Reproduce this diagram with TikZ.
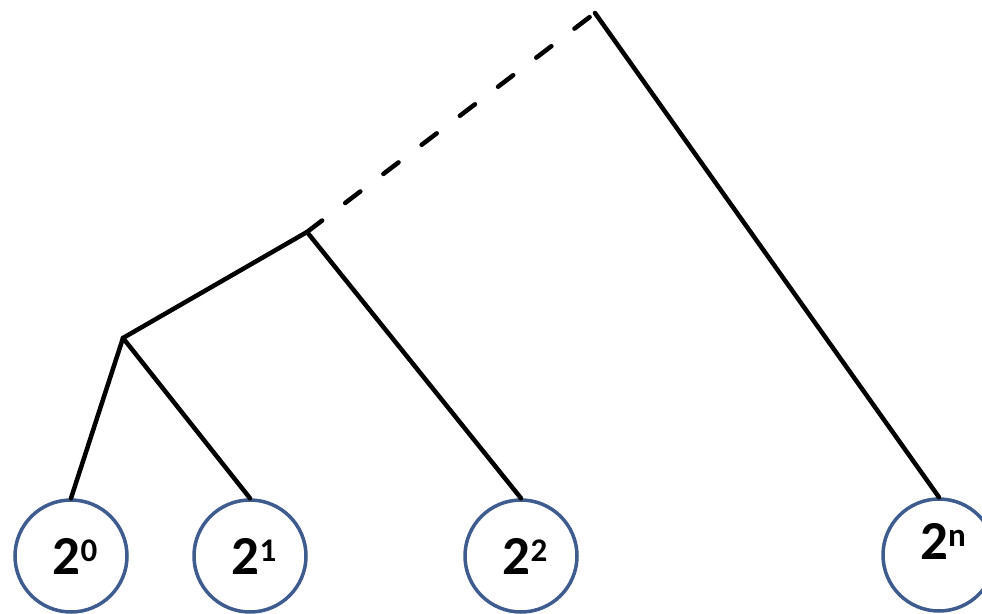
\documentclass[tikz,border=0pt]{standalone}
\usepackage{fontspec}
\setmainfont{Carlito}
\definecolor{ringBlue}{RGB}{62, 92, 142}
\newcommand{\pw}[1]{2\raisebox{13pt}{\fontsize{33}{33}\selectfont #1}}

\begin{document}
\begin{tikzpicture}[x=1pt, y=-1pt,
    ring/.style={circle, draw=ringBlue, line width=3.5pt, minimum size=112pt, inner sep=0pt,
      font=\bfseries\fontsize{55}{60}\selectfont},
    link/.style={line width=4.5pt, line cap=round}]
      \useasboundingbox (0,0) rectangle (982,613);
      \node[ring] (c0) at (71,556) {\hspace*{8pt}\pw{0}};
      \node[ring] (c1) at (250,556) {\hspace*{8pt}\pw{1}};
      \node[ring] (c2) at (521,556) {\hspace*{8pt}\pw{2}};
      \node[ring] (c3) at (939,555) {\raisebox{14pt}[\height][\depth]{\hspace*{8pt}\pw{n}}};
      \coordinate (j1) at (123,338);
      \coordinate (j2) at (307,232);
      \coordinate (top) at (595,13);
      \draw[link] (j1) -- (c0.north);
      \draw[link] (j1) -- (c1.north);
      \draw[link] (j1) -- (j2);
      \draw[link] (j2) -- (c2.north);
      \draw[link, dash pattern=on 19pt off 29pt] (j2) -- (top);
      \draw[link] (top) -- (c3.north);
    \end{tikzpicture}
\end{document}
